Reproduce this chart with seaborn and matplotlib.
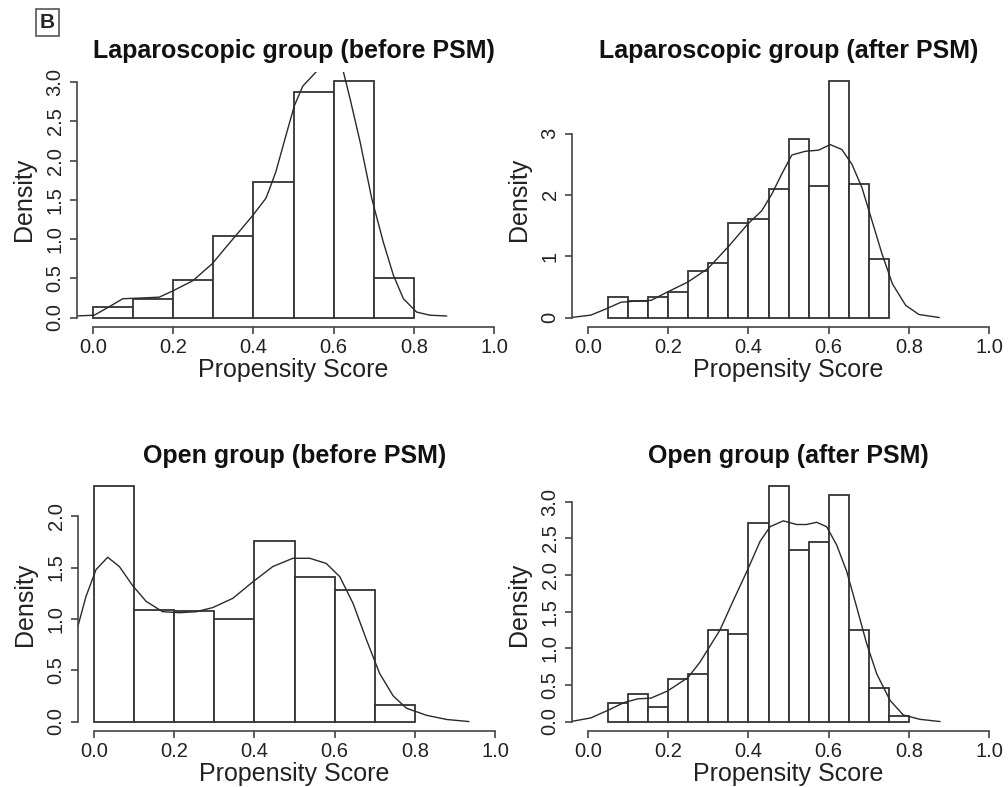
import numpy as np
import pandas as pd
import matplotlib
matplotlib.use("Agg")
import matplotlib.pyplot as plt
import seaborn as sns

# --- histogram bins and densities ---
lap_before_edges = [0.0, 0.1, 0.2, 0.3, 0.4, 0.5, 0.6, 0.7, 0.8]
lap_before_dens = [0.14, 0.24, 0.48, 1.04, 1.73, 2.87, 3.01, 0.51]

lap_after_edges = [0.05, 0.10, 0.15, 0.20, 0.25, 0.30, 0.35, 0.40, 0.45, 0.50,
                   0.55, 0.60, 0.65, 0.70, 0.75]
lap_after_dens = [0.33, 0.27, 0.34, 0.41, 0.76, 0.89, 1.54, 1.61, 2.10, 2.91,
                  2.14, 3.85, 2.17, 0.95]

open_before_edges = [0.0, 0.1, 0.2, 0.3, 0.4, 0.5, 0.6, 0.7, 0.8]
open_before_dens = [2.29, 1.09, 1.08, 1.00, 1.76, 1.41, 1.28, 0.165]

open_after_edges = [0.05, 0.10, 0.15, 0.20, 0.25, 0.30, 0.35, 0.40, 0.45, 0.50,
                    0.55, 0.60, 0.65, 0.70, 0.75, 0.80]
open_after_dens = [0.25, 0.38, 0.20, 0.58, 0.65, 1.25, 1.20, 2.71, 3.21, 2.34,
                   2.45, 3.09, 1.25, 0.46, 0.07]

# --- kernel density curves (traced points) ---
lap_before_kx = [-0.042, 0.003, 0.041, 0.074, 0.124, 0.165, 0.199, 0.249, 0.298, 0.332,
                 0.357, 0.398, 0.431, 0.441, 0.456, 0.481, 0.502, 0.523, 0.556, 0.58,
                 0.60, 0.615, 0.624, 0.641, 0.666, 0.695, 0.724, 0.749, 0.774, 0.807,
                 0.84, 0.882]
lap_before_ky = [0.02, 0.03, 0.14, 0.24, 0.25, 0.26, 0.34, 0.47, 0.69, 0.90,
                 1.05, 1.30, 1.52, 1.65, 1.86, 2.32, 2.70, 2.95, 3.13, 3.25,
                 3.32, 3.28, 3.14, 2.79, 2.24, 1.52, 0.96, 0.54, 0.24, 0.07,
                 0.03, 0.02]

lap_after_kx = [-0.043, 0.007, 0.048, 0.082, 0.124, 0.157, 0.199, 0.249, 0.299, 0.349,
                0.399, 0.433, 0.458, 0.483, 0.508, 0.541, 0.575, 0.604, 0.633, 0.658,
                0.683, 0.708, 0.733, 0.759, 0.792, 0.825, 0.876]
lap_after_ky = [0.0, 0.04, 0.15, 0.25, 0.27, 0.28, 0.42, 0.58, 0.80, 1.15,
                1.53, 1.74, 2.01, 2.34, 2.65, 2.71, 2.73, 2.82, 2.74, 2.50,
                2.12, 1.58, 1.04, 0.55, 0.20, 0.05, 0.0]

open_before_kx = [-0.045, -0.02, 0.005, 0.034, 0.063, 0.097, 0.130, 0.171, 0.213, 0.255,
                  0.296, 0.346, 0.396, 0.446, 0.496, 0.538, 0.579, 0.613, 0.646, 0.679,
                  0.712, 0.746, 0.779, 0.83, 0.88, 0.935]
open_before_ky = [0.86, 1.22, 1.48, 1.60, 1.51, 1.32, 1.17, 1.07, 1.06, 1.07,
                  1.11, 1.20, 1.36, 1.51, 1.59, 1.59, 1.54, 1.41, 1.15, 0.80,
                  0.47, 0.25, 0.13, 0.06, 0.02, 0.0]

open_after_kx = [-0.043, 0.007, 0.048, 0.09, 0.124, 0.157, 0.199, 0.249, 0.279, 0.329,
                 0.362, 0.396, 0.429, 0.454, 0.487, 0.520, 0.545, 0.570, 0.595, 0.620,
                 0.645, 0.670, 0.695, 0.72, 0.753, 0.786, 0.828, 0.878]
open_after_ky = [0.0, 0.05, 0.15, 0.26, 0.31, 0.32, 0.42, 0.60, 0.81, 1.25,
                 1.65, 2.05, 2.46, 2.66, 2.74, 2.69, 2.69, 2.72, 2.66, 2.41,
                 2.05, 1.56, 1.06, 0.65, 0.29, 0.09, 0.03, 0.0]

titles = ["Laparoscopic group (before PSM)", "Laparoscopic group (after PSM)",
          "Open group (before PSM)", "Open group (after PSM)"]
x_ticks = [0.0, 0.2, 0.4, 0.6, 0.8, 1.0]
y_ticks = [[0.0, 0.5, 1.0, 1.5, 2.0, 2.5, 3.0], [0, 1, 2, 3],
           [0.0, 0.5, 1.0, 1.5, 2.0], [0.0, 0.5, 1.0, 1.5, 2.0, 2.5, 3.0]]
y_ticklabels = [["0.0", "0.5", "1.0", "1.5", "2.0", "2.5", "3.0"], ["0", "1", "2", "3"],
                ["0.0", "0.5", "1.0", "1.5", "2.0"],
                ["0.0", "0.5", "1.0", "1.5", "2.0", "2.5", "3.0"]]

panels = [
    (lap_before_edges, lap_before_dens, lap_before_kx, lap_before_ky),
    (lap_after_edges, lap_after_dens, lap_after_kx, lap_after_ky),
    (open_before_edges, open_before_dens, open_before_kx, open_before_ky),
    (open_after_edges, open_after_dens, open_after_kx, open_after_ky),
]

sns.set_style("white")
plt.rcParams["font.family"] = ["Liberation Sans", "DejaVu Sans"]

fig = plt.figure(figsize=(10.08, 7.87), dpi=100)
positions = [
    [0.0764, 0.5845, 0.4296, 0.324],
    [0.5675, 0.5845, 0.4296, 0.324],
    [0.0774, 0.0712, 0.4296, 0.3227],
    [0.5675, 0.0712, 0.4296, 0.3227],
]

edge_col = "#333333"
for i, (edges, dens, kx, ky) in enumerate(panels):
    ax = fig.add_axes(positions[i])
    df = pd.DataFrame({
        "mid": [(edges[j] + edges[j + 1]) / 2 for j in range(len(dens))],
        "dens": dens,
    })
    sns.histplot(data=df, x="mid", weights="dens", bins=edges, stat="count",
                 color="white", edgecolor=edge_col, linewidth=1.3, alpha=1,
                 ax=ax)
    kd = pd.DataFrame({"x": kx, "y": ky})
    sns.lineplot(data=kd, x="x", y="y", sort=False, estimator=None,
                 color="#2a2a2a", linewidth=1.0, ax=ax)

    ymax = max(dens)
    ax.set_xlim(-0.04, 1.04)
    ax.set_ylim(-0.04 * ymax, 1.04 * ymax)
    ax.set_xticks(x_ticks)
    ax.set_xticklabels(["0.0", "0.2", "0.4", "0.6", "0.8", "1.0"])
    ax.set_yticks(y_ticks[i])
    ax.set_yticklabels(y_ticklabels[i], rotation=90, va="center")

    for s in ["top", "right"]:
        ax.spines[s].set_visible(False)
    ax.spines["left"].set_bounds(y_ticks[i][0], y_ticks[i][-1])
    ax.spines["bottom"].set_bounds(0.0, 1.0)
    for s in ["left", "bottom"]:
        ax.spines[s].set_color("#444444")
        ax.spines[s].set_linewidth(1.2)

    ax.tick_params(axis="both", which="major", direction="out", length=5,
                   width=1.2, color="#444444", labelsize=14.5, labelcolor="#222222",
                   bottom=True, left=True)
    ax.tick_params(axis="x", pad=3)
    ax.tick_params(axis="y", pad=4)

    ax.set_xlabel("Propensity Score", fontsize=18, color="#222222", labelpad=1)
    ax.set_ylabel("Density", fontsize=18, color="#222222", labelpad=7)
    ax.set_title(titles[i], fontsize=18, fontweight="bold", color="#111111", pad=10)

fig.text(0.047, 0.971, "B", fontsize=15, fontweight="bold", ha="center", va="center",
         bbox=dict(boxstyle="square,pad=0.2", facecolor="white", edgecolor="#555555",
                   linewidth=1.2))

plt.savefig("out.png", dpi=100)
plt.close()
